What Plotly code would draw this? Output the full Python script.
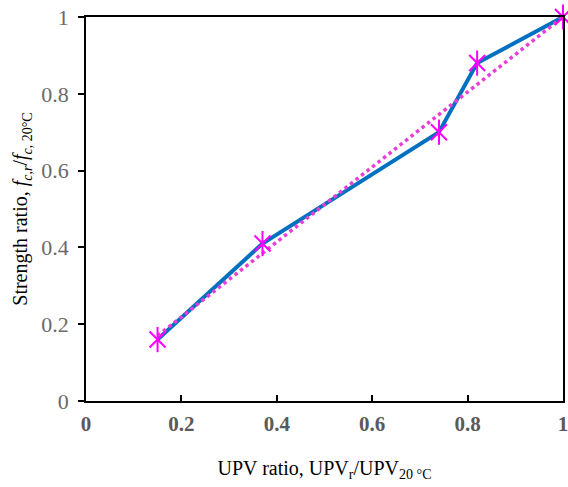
import plotly.graph_objects as go

upv_ratio = [0.15, 0.37, 0.74, 0.82, 1.0]
strength_ratio = [0.16, 0.41, 0.70, 0.88, 1.0]
trend_x = [0.15, 1.0]
trend_y = [0.17, 1.0]
tick_vals = [0, 0.2, 0.4, 0.6, 0.8, 1]
tick_text = ["0", "0.2", "0.4", "0.6", "0.8", "1"]

fig = go.Figure()
fig.add_trace(go.Scatter(x=upv_ratio, y=strength_ratio, mode="lines",
                         line=dict(color="#0070C0", width=4), showlegend=False, cliponaxis=False))
fig.add_trace(go.Scatter(x=trend_x, y=trend_y, mode="lines",
                         line=dict(color="#E83ED8", width=3.5, dash="dot"), showlegend=False, cliponaxis=False))
fig.add_trace(go.Scatter(x=upv_ratio, y=strength_ratio, mode="markers", cliponaxis=False,
                         marker=dict(symbol="x-thin-open", size=16, color="#FF00FF",
                                     line=dict(color="#FF00FF", width=2)), showlegend=False))
fig.add_trace(go.Scatter(x=upv_ratio, y=strength_ratio, mode="markers", cliponaxis=False,
                         marker=dict(symbol="line-ns-open", size=18, color="#FF00FF",
                                     line=dict(color="#FF00FF", width=2)), showlegend=False))

fig.update_layout(
    width=568, height=487,
    margin=dict(l=86, r=5, t=17, b=86),
    plot_bgcolor="white", paper_bgcolor="white",
    font=dict(family="Liberation Serif", size=20, color="black"),
    xaxis=dict(range=[0, 1], tickvals=tick_vals, ticktext=["<b>%s</b>" % t for t in tick_text],
               automargin=False, ticklabeloverflow="allow",
               ticks="inside", ticklen=6, tickcolor="black", tickwidth=1.5,
               ticklabelstandoff=3,
               showline=True, linecolor="black", linewidth=1.5, mirror=True,
               showgrid=False, zeroline=False,
               tickfont=dict(family="Liberation Serif", size=21, color="#595959"),
               title=dict(text="UPV ratio, UPV<sub>r</sub>/UPV<sub>20 °C</sub>",
                          font=dict(family="Liberation Serif", size=20, color="black"),
                          standoff=26)),
    yaxis=dict(range=[0, 1], tickvals=tick_vals, ticktext=tick_text,
               automargin=False, ticklabeloverflow="allow",
               ticks="outside", ticklen=6, tickcolor="black", tickwidth=1.5,
               ticklabelstandoff=5,
               showline=True, linecolor="black", linewidth=1.5, mirror=True,
               showgrid=False, zeroline=False,
               tickfont=dict(family="Liberation Serif", size=22, color="#6a6a6a"),
               title=dict(text="Strength ratio, <i>f</i><sub><i>c,r</i></sub>/<i>f</i><sub><i>c</i>, 20°C</sub>",
                          font=dict(family="Liberation Serif", size=20, color="black"),
                          standoff=8)),
)

fig.write_html("out.html", config={"displayModeBar": False},
               post_script="document.body.style.margin='0';document.body.style.padding='0';")
